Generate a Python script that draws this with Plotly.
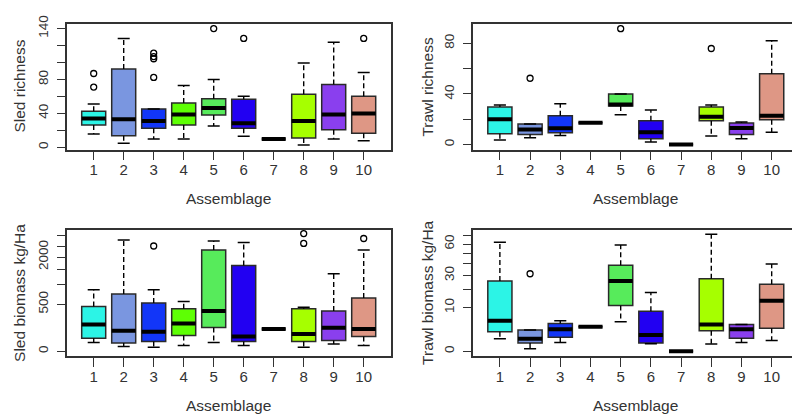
import numpy as np
import plotly.graph_objects as go

groups = list(range(1, 11))
box_colors = ["#2CF4E6", "#7A96E0", "#1236F8", "#5EFF04", "#57EB5B",
              "#2200F2", "#444444", "#A6FF00", "#8A3FEE", "#DE9785"]

# ---- Sled richness ----
sr_lower = [15.5, 4.6, 9.7, 9.7, 25.1, 12.8, 9.7, 2.7, 9.7, 7.7]
sr_q1 = [26.3, 13.5, 22.4, 26.3, 37.9, 22.4, 9.7, 10.8, 20.5, 16.6]
sr_med = [34.0, 32.9, 30.9, 38.7, 46.4, 28.2, 9.7, 30.9, 38.7, 39.8]
sr_q3 = [42.5, 92.4, 45.2, 52.2, 57.2, 56.5, 9.7, 62.6, 73.9, 60.0]
sr_upper = [51.0, 128.4, 45.2, 72.7, 80.0, 60.0, 9.7, 99.4, 124.0, 88.2]
sr_out_x = [1, 1, 3, 3, 3, 3, 5, 6, 10]
sr_out_y = [87, 71, 82.4, 104.4, 107, 111, 140, 128.4, 128.4]

# ---- Trawl richness ----
tr_lower = [3.6, 5.4, 7.2, 17.3, 23.5, 2.1, 0, 6.7, 4.6, 9.8]
tr_q1 = [8.5, 8.0, 9.3, 17.3, 30.5, 4.6, 0, 18.8, 8.0, 19.6]
tr_med = [20.1, 11.9, 12.9, 17.3, 31.7, 9.8, 0, 21.9, 13.2, 22.7]
tr_q3 = [29.7, 16.3, 22.7, 17.3, 40.0, 18.8, 0, 29.7, 17.0, 56.0]
tr_upper = [31.2, 16.3, 32.3, 17.3, 40.0, 27.4, 0, 31.2, 17.8, 82.0]
tr_out_x = [2, 5, 8]
tr_out_y = [52.4, 91.6, 75.9]

# ---- Sled biomass kg/Ha ----
sb_lower = [17.6, 5.4, 3.5, 7.8, 17.6, 7.8, 111.5, 3.5, 11.7, 7.8]
sb_q1 = [38.6, 15.1, 21.7, 55.5, 128.5, 21.7, 111.5, 21.7, 26.3, 48.8]
sb_med = [162, 95.7, 86.8, 174, 365, 48.8, 111.5, 67.7, 125, 111.5]
sb_q3 = [452, 738, 528, 407, 2317, 1655, 111.5, 407, 365, 641]
sb_upper = [852, 2787, 852, 557, 2738, 2674, 111.5, 439, 1354, 2317]
sb_out_x = [3, 8, 8, 10]
sb_out_y = [2500, 3125, 2626, 2870]

# ---- Trawl biomass kg/Ha ----
tb_lower = [0.81, 0.036, 0.41, 3.14, 4.53, 0.30, 0, 0.27, 0.41, 0.61]
tb_q1 = [2.01, 0.35, 1.03, 3.14, 10.95, 0.35, 0, 2.22, 0.89, 2.74]
tb_med = [4.83, 0.81, 2.51, 3.14, 25.8, 1.40, 0, 3.76, 2.51, 13.4]
tb_q3 = [25.8, 2.36, 4.04, 3.14, 38.7, 8.32, 0, 27.5, 3.76, 23.5]
tb_upper = [62, 2.36, 4.83, 3.14, 59, 18.1, 0, 71.6, 3.76, 39.8]
tb_out_x = [2]
tb_out_y = [31.4]

# tick labels
sr_ticks = [0, 20, 40, 60, 80, 100, 120, 140]
sr_ticktext = ["0", "", "40", "", "80", "", "", "140"]
tr_ticks = [0, 20, 40, 60, 80]
tr_ticktext = ["0", "", "40", "", "80"]
sb_ticks = [0, 500, 1000, 1500, 2000, 2500, 3000]
sb_ticktext = ["0", "500", "", "", "2000", "", ""]
tb_ticks = [0, 10, 20, 30, 40, 50, 60, 70]
tb_ticktext = ["0", "10", "", "30", "", "", "60", ""]

W, H = 792, 417
TXT = "#333333"
FONT = "Liberation Sans, Arial, sans-serif"

ident = lambda v: np.asarray(v, dtype=float)
sq = lambda v: np.sqrt(np.asarray(v, dtype=float))

left_x = [66.7 / W, 390.7 / W]
right_x = [472.7 / W, 1.0]
top_y = [1 - 144.3 / H, 1 - 16 / H]
bot_y = [1 - 355 / H, 1 - 226 / H]

panels = [
    dict(n="", stats=(sr_lower, sr_q1, sr_med, sr_q3, sr_upper), out=(sr_out_x, sr_out_y),
         f=ident, yr=[-2.75, 145.8], ticks=sr_ticks, tt=sr_ticktext, title="Sled richness",
         dx=left_x, dy=top_y, xr=[0.1, 10.9], right=False),
    dict(n="2", stats=(tr_lower, tr_q1, tr_med, tr_q3, tr_upper), out=(tr_out_x, tr_out_y),
         f=ident, yr=[-3.9, 95.5], ticks=tr_ticks, tt=tr_ticktext, title="Trawl richness",
         dx=right_x, dy=top_y, xr=[0.1, 0.1 + (W - 472.7) / 30.2], right=True),
    dict(n="3", stats=(sb_lower, sb_q1, sb_med, sb_q3, sb_upper), out=(sb_out_x, sb_out_y),
         f=sq, yr=[-2.33, 57.76], ticks=sb_ticks, tt=sb_ticktext, title="Sled biomass kg/Ha",
         dx=left_x, dy=bot_y, xr=[0.1, 10.9], right=False),
    dict(n="4", stats=(tb_lower, tb_q1, tb_med, tb_q3, tb_upper), out=(tb_out_x, tb_out_y),
         f=sq, yr=[-0.355, 8.79], ticks=tb_ticks, tt=tb_ticktext, title="Trawl biomass kg/Ha",
         dx=right_x, dy=bot_y, xr=[0.1, 0.1 + (W - 472.7) / 30.2], right=True),
]

fig = go.Figure()
layout = dict(width=W, height=H, margin=dict(l=0, r=0, t=0, b=0),
              paper_bgcolor="white", plot_bgcolor="white", showlegend=False,
              boxmode="overlay", font=dict(family=FONT, color=TXT))
annotations = []

for p in panels:
    n = p["n"]
    xa, ya = "x" + n, "y" + n
    lo, q1, md, q3, up = [p["f"](a) for a in p["stats"]]
    for i, g in enumerate(groups):
        fig.add_trace(go.Box(
            x=[g], q1=[q1[i]], median=[md[i]], q3=[q3[i]],
            lowerfence=[q1[i]], upperfence=[q3[i]], width=0.8,
            fillcolor=box_colors[i], line=dict(color="#2a2a2a", width=1.5),
            whiskerwidth=0, boxpoints=False, hoverinfo="skip",
            xaxis=xa, yaxis=ya))
    # whiskers (dashed)
    wx, wy = [], []
    for i, g in enumerate(groups):
        wx += [g, g, None, g, g, None]
        wy += [q3[i], up[i], None, q1[i], lo[i], None]
    fig.add_trace(go.Scatter(x=wx, y=wy, mode="lines", hoverinfo="skip",
                             line=dict(color="black", width=1.4, dash="5px,3px"),
                             xaxis=xa, yaxis=ya))
    # staples
    sx, sy = [], []
    for i, g in enumerate(groups):
        sx += [g - 0.2, g + 0.2, None, g - 0.2, g + 0.2, None]
        sy += [up[i], up[i], None, lo[i], lo[i], None]
    fig.add_trace(go.Scatter(x=sx, y=sy, mode="lines", hoverinfo="skip",
                             line=dict(color="black", width=1.5),
                             xaxis=xa, yaxis=ya))
    # medians (thick)
    mx, my = [], []
    for i, g in enumerate(groups):
        mx += [g - 0.4, g + 0.4, None]
        my += [md[i], md[i], None]
    fig.add_trace(go.Scatter(x=mx, y=my, mode="lines", hoverinfo="skip",
                             line=dict(color="black", width=4),
                             xaxis=xa, yaxis=ya))
    # outliers
    ox, oy = p["out"]
    fig.add_trace(go.Scatter(x=ox, y=p["f"](oy), mode="markers", hoverinfo="skip",
                             marker=dict(symbol="circle-open", size=6,
                                         color="black", line=dict(width=1.3)),
                             xaxis=xa, yaxis=ya))

    xkey = "xaxis" + n
    ykey = "yaxis" + n
    layout[xkey] = dict(domain=p["dx"], range=p["xr"], anchor=ya,
                        tickmode="array", tickvals=groups, ticktext=[str(g) for g in groups],
                        ticks="outside", ticklen=9, tickwidth=1.3, tickcolor="#333",
                        showline=True, mirror=True, linecolor="#333", linewidth=1.5,
                        showgrid=False, zeroline=False, ticklabelstandoff=-3,
                        tickfont=dict(size=15, color=TXT, family=FONT))
    layout[ykey] = dict(domain=p["dy"], range=p["yr"], anchor=xa,
                        tickmode="array", tickvals=list(p["f"](p["ticks"])), ticktext=p["tt"],
                        ticks="outside", ticklen=8, tickwidth=1.3, tickcolor="#333",
                        showline=True, mirror=not p["right"], linecolor="#333", linewidth=1.5,
                        showgrid=False, zeroline=False, tickangle=-90, ticklabelstandoff=4,
                        tickfont=dict(size=13.5, color=TXT, family=FONT))
    xmid_px = (p["dx"][0] * W + (p["dx"][0] * W + 10.8 * (p["dx"][1] - p["dx"][0]) * W /
               (p["xr"][1] - p["xr"][0]))) / 2
    ymid = (p["dy"][0] + p["dy"][1]) / 2
    annotations.append(dict(text="Assemblage", xref="paper", yref="paper",
                            x=xmid_px / W, y=p["dy"][0] - 50 / H,
                            xanchor="center", yanchor="middle", showarrow=False,
                            font=dict(size=15.5, color=TXT, family=FONT)))
    annotations.append(dict(text=p["title"], xref="paper", yref="paper",
                            x=(20 if not p["right"] else 428) / W, y=ymid, textangle=-90,
                            xanchor="center", yanchor="middle", showarrow=False,
                            font=dict(size=15.5, color=TXT, family=FONT)))

layout["annotations"] = annotations
fig.update_layout(**layout)
fig.write_html("out.html")
